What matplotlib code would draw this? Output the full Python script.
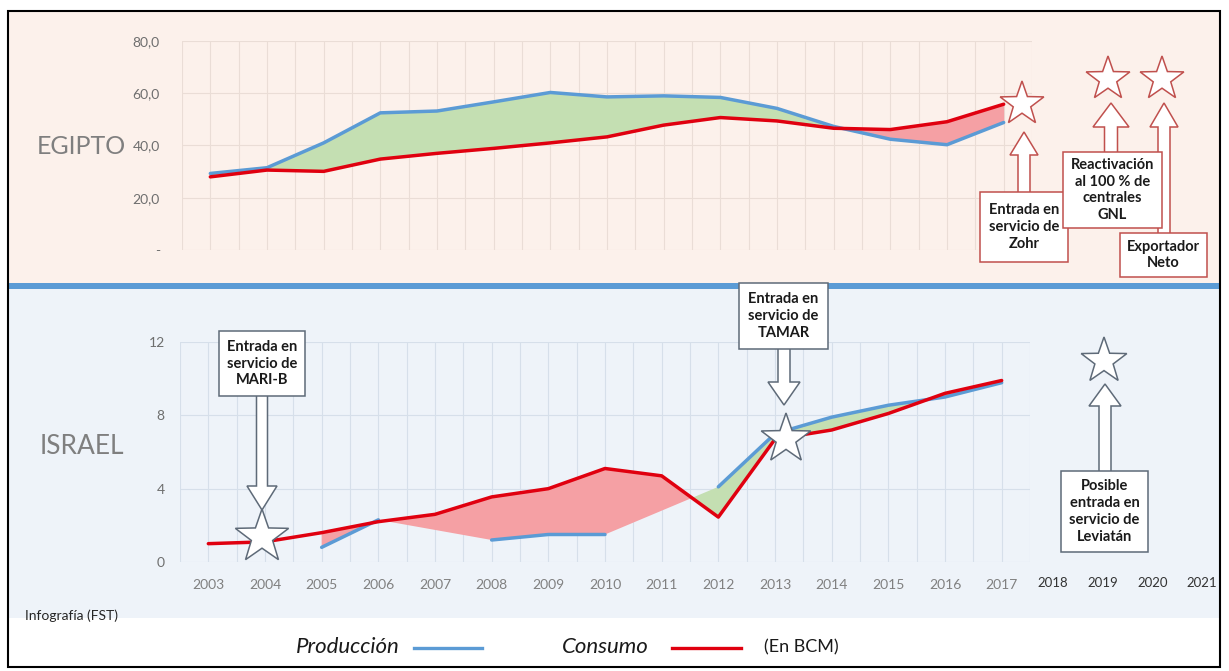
import numpy as np
import matplotlib.pyplot as plt
from matplotlib.patches import Rectangle, Polygon

plt.rcParams['font.family'] = ['Lato', 'DejaVu Sans']

years = list(range(2003, 2018))

# Egipto, en BCM
egipto_prod = [29.3, 31.5, 41.0, 52.5, 53.2, 56.7, 60.3, 58.6, 59.0, 58.4, 54.2, 47.3, 42.4, 40.3, 48.8]
egipto_cons = [28.0, 30.6, 30.1, 34.8, 37.0, 38.9, 41.0, 43.3, 47.8, 50.7, 49.4, 46.6, 46.1, 49.1, 55.8]

# Israel, en BCM (None = sin dato)
israel_prod = [None, None, 0.8, 2.3, None, 1.2, 1.5, 1.5, None, 4.1, 7.0, 7.9, 8.55, 9.0, 9.78]
israel_cons = [1.0, 1.1, 1.6, 2.2, 2.6, 3.55, 4.0, 5.1, 4.7, 2.45, 6.7, 7.2, 8.1, 9.2, 9.9]

egipto_ticks = [0, 20, 40, 60, 80]
egipto_ticklabels = ['-', '20,0', '40,0', '60,0', '80,0']
israel_ticks = [0, 4, 8, 12]
extra_years = ['2018', '2019', '2020', '2021']

BLUE = '#5B9BD5'
RED = '#E0000F'
GREEN_FILL = '#C4DFB2'
RED_FILL = '#F5A0A4'
W, H = 1229, 671

fig = plt.figure(figsize=(W / 100, H / 100), dpi=100)


def px_axes(l, t, r, b, z):
    return fig.add_axes([l / W, 1 - b / H, (r - l) / W, (b - t) / H], zorder=z)


# background and overlay in pixel coordinates
bg = fig.add_axes([0, 0, 1, 1], zorder=0)
ov = fig.add_axes([0, 0, 1, 1], zorder=5)
for a in (bg, ov):
    a.set_xlim(0, W)
    a.set_ylim(H, 0)
    a.axis('off')

bg.add_patch(Rectangle((8, 11), 1212, 272, fc='#FCF1EB', ec='none'))
bg.add_patch(Rectangle((8, 289), 1212, 329, fc='#EEF3F9', ec='none'))
bg.add_patch(Rectangle((8, 283), 1212, 6, fc=BLUE, ec='none'))
bg.add_patch(Rectangle((8, 11), 1212, 656, fc='none', ec='black', lw=1.5))


def draw_panel(ax, prod, cons, grid_color):
    x = np.array(years, dtype=float)
    p = np.array([np.nan if v is None else v for v in prod])
    c = np.array(cons, dtype=float)
    ok = ~np.isnan(p)
    # fill edge runs straight across the missing years
    pf = np.interp(x, x[ok], p[ok])
    m = x >= x[ok][0]
    ax.fill_between(x[m], pf[m], c[m], where=pf[m] >= c[m], interpolate=True,
                    color=GREEN_FILL, lw=0, zorder=2)
    ax.fill_between(x[m], pf[m], c[m], where=pf[m] <= c[m], interpolate=True,
                    color=RED_FILL, lw=0, zorder=2)
    ax.plot(x, p, color=BLUE, lw=2.5, zorder=3, solid_capstyle='round')
    ax.plot(x, c, color=RED, lw=2.5, zorder=4, solid_capstyle='round')
    ax.set_xlim(2002.5, 2017.5)
    ax.set_xticks(years)
    ax.set_xticks(np.arange(2002.5, 2018, 1.0), minor=True)
    ax.grid(True, which='both', color=grid_color, lw=0.8, zorder=1)
    ax.set_axisbelow(True)
    ax.set_facecolor('none')
    for s in ax.spines.values():
        s.set_visible(False)
    ax.tick_params(which='both', length=0)


top = px_axes(182, 41, 1032, 250, 2)
draw_panel(top, egipto_prod, egipto_cons, '#EADDD6')
top.set_ylim(0, 80)
top.set_yticks(egipto_ticks)
top.set_yticklabels(egipto_ticklabels)
top.set_xticklabels([])
top.tick_params(axis='y', pad=16, labelsize=10, labelcolor='#6E6E6E')

bot = px_axes(180, 342, 1030, 562, 2)
draw_panel(bot, israel_prod, israel_cons, '#D6DFEA')
bot.set_ylim(0, 12)
bot.set_yticks(israel_ticks)
bot.tick_params(axis='y', pad=11, labelsize=10, labelcolor='#6E6E6E')
bot.tick_params(axis='x', pad=12, labelsize=10, labelcolor='#808080')

# country names
ov.text(37, 147, 'EGIPTO', fontsize=18, color='#7F7F7F', ha='left', va='center')
ov.text(40, 447, 'ISRAEL', fontsize=19, color='#7F7F7F', ha='left', va='center')

for lab, xp in zip(extra_years, [1053, 1103, 1153, 1202]):
    ov.text(xp, 583, lab, fontsize=9.5, color='#333333', ha='center', va='center')

ov.text(25, 616, 'Infografía (FST)', fontsize=10, color='#262626', ha='left', va='center')


def star(cx, cy, r, ec):
    k = np.arange(10)
    ang = np.pi / 2 + k * np.pi / 5
    rad = np.where(k % 2 == 0, r, r * 0.4)
    pts = np.column_stack([cx + rad * np.cos(ang), cy - rad * np.sin(ang)])
    ov.add_patch(Polygon(pts, closed=True, fc='white', ec=ec, lw=1.1, zorder=6))


def block_arrow(x, y_tail, y_tip, shaft, head, head_len, ec):
    s = np.sign(y_tip - y_tail)
    yb = y_tip - s * head_len
    pts = [(x - shaft / 2, y_tail), (x - shaft / 2, yb), (x - head / 2, yb), (x, y_tip),
           (x + head / 2, yb), (x + shaft / 2, yb), (x + shaft / 2, y_tail)]
    ov.add_patch(Polygon(pts, closed=False, fc='white', ec=ec, lw=1.1, zorder=4))


def box(l, t, r, b, text, ec):
    ov.add_patch(Rectangle((l, t), r - l, b - t, fc='white', ec=ec, lw=1.1, zorder=5))
    ov.text((l + r) / 2, (t + b) / 2, text, ha='center', va='center', fontsize=10.5,
            fontweight='bold', color='#1A1A1A', linespacing=1.25, zorder=7)


TOP_EC = '#C0504D'
BOT_EC = '#5E6A78'

# Egipto annotations
block_arrow(1024, 192, 132, 12, 28, 23, TOP_EC)
box(980, 192, 1068, 262, 'Entrada en\nservicio de\nZohr', TOP_EC)
star(1022, 104, 23, TOP_EC)

block_arrow(1164, 233, 103, 12, 28, 24, TOP_EC)
block_arrow(1111, 152, 103, 13, 36, 24, TOP_EC)
box(1063, 152, 1162, 228, 'Reactivación\nal 100 % de\ncentrales\nGNL', TOP_EC)
box(1120, 233, 1207, 277, 'Exportador\nNeto', TOP_EC)
star(1108, 79, 23, TOP_EC)
star(1162, 79, 23, TOP_EC)

# Israel annotations
box(219, 331, 305, 396, 'Entrada en\nservicio de\nMARI-B', BOT_EC)
block_arrow(262, 396, 510, 11, 30, 24, BOT_EC)
star(262, 537, 28, BOT_EC)

box(739, 283, 828, 349, 'Entrada en\nservicio de\nTAMAR', BOT_EC)
block_arrow(784, 349, 405, 12, 32, 23, BOT_EC)
star(786, 439, 26, BOT_EC)

block_arrow(1105, 471, 384, 12, 32, 22, BOT_EC)
box(1061, 471, 1148, 552, 'Posible\nentrada en\nservicio de\nLeviatán', BOT_EC)
star(1104, 361, 24, BOT_EC)

# legend
ov.text(400, 647, 'Producción', fontsize=16, style='italic', color='#1A1A1A', ha='right', va='center')
ov.plot([414, 482], [648, 648], color=BLUE, lw=2.4)
ov.text(649, 647, 'Consumo', fontsize=16, style='italic', color='#1A1A1A', ha='right', va='center')
ov.plot([672, 741], [648, 648], color=RED, lw=2.4)
ov.text(764, 647, '(En BCM)', fontsize=13, color='#1A1A1A', ha='left', va='center')

fig.savefig('out.png', dpi=100)
